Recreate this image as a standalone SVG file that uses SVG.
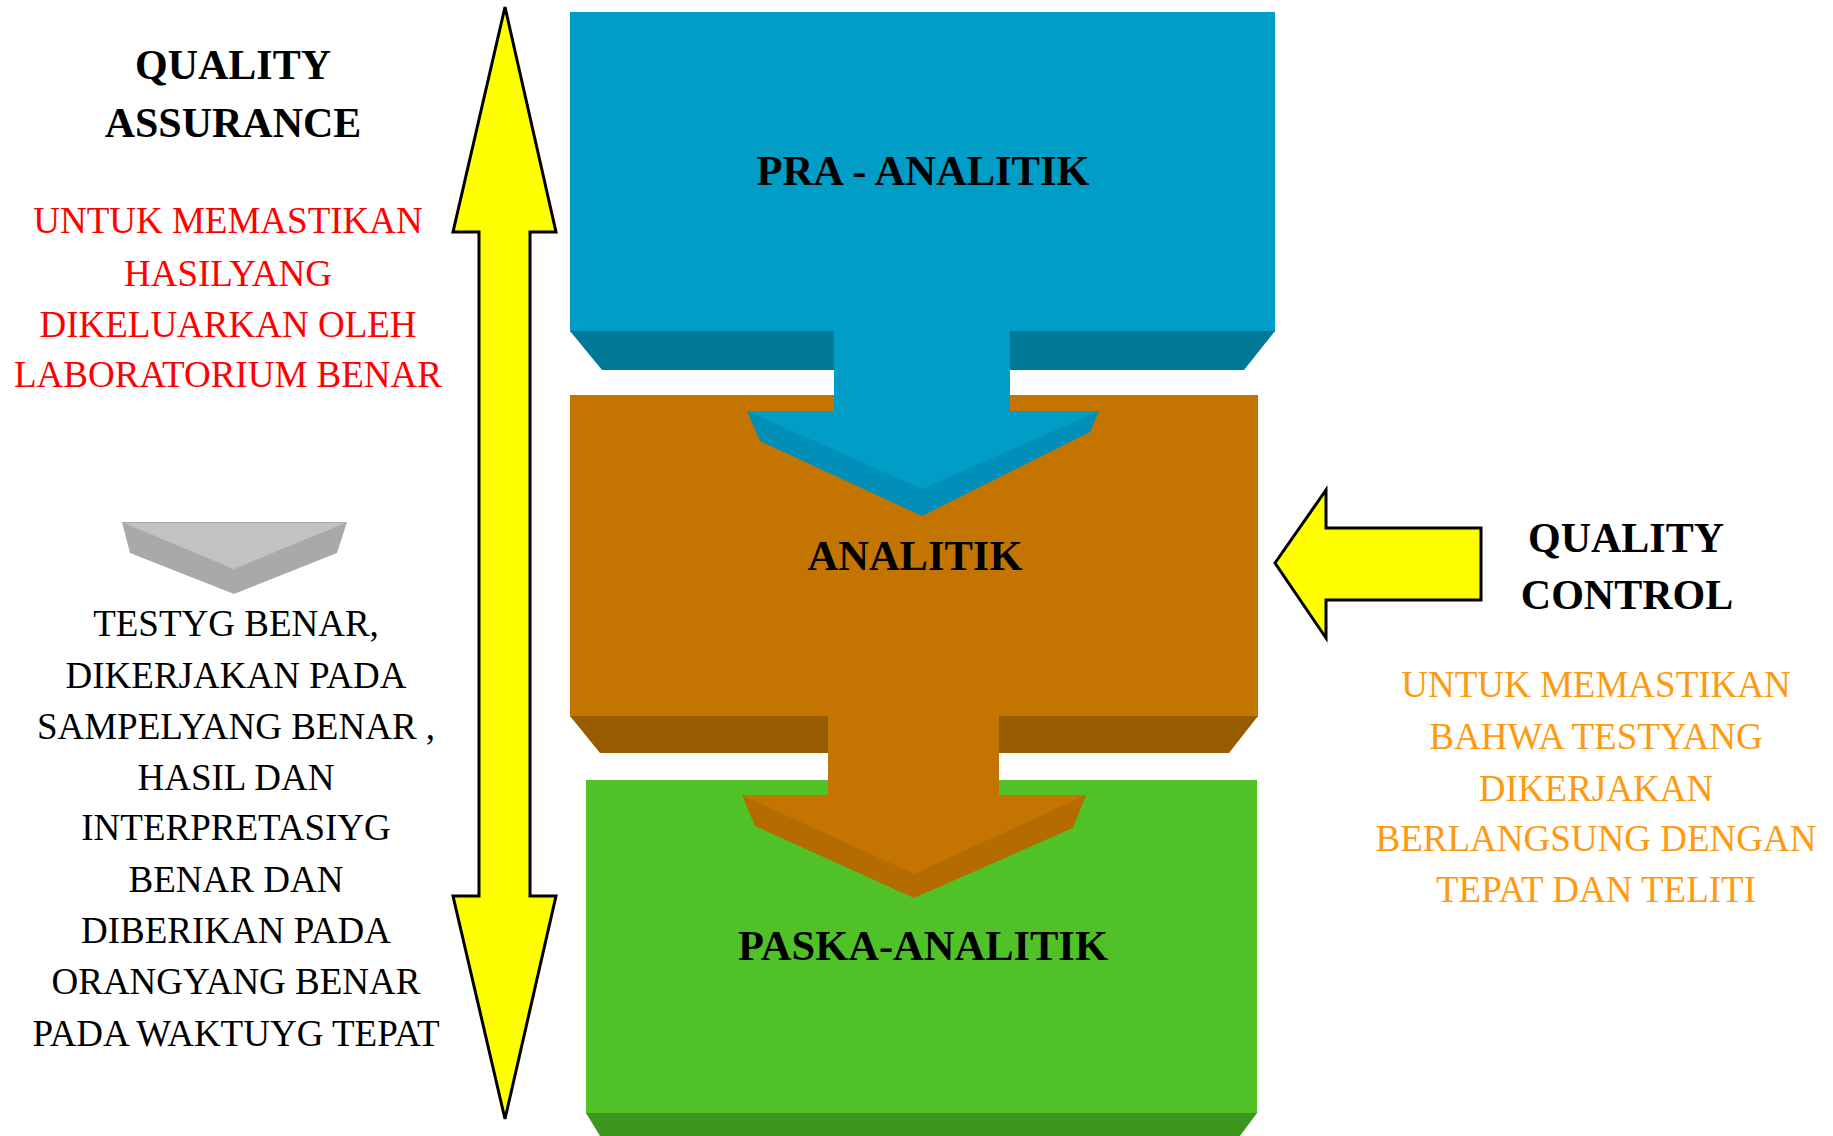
<svg xmlns="http://www.w3.org/2000/svg" width="1833" height="1136" viewBox="0 0 1833 1136">
<style>
.title{font-family:"Liberation Serif","Times New Roman",serif;font-weight:bold;font-size:42px;fill:#000;text-anchor:middle}
.node{font-family:"Liberation Serif","Times New Roman",serif;font-weight:bold;font-size:42.5px;fill:#000;text-anchor:middle}
.body{font-family:"Liberation Serif","Times New Roman",serif;font-size:37px;text-anchor:middle}
.red{fill:#FF0000}
.blk{fill:#000}
.org{fill:#FF9A10}
.yel{fill:#FFFF00;stroke:#000;stroke-width:3;stroke-linejoin:miter}
</style>
<rect width="1833" height="1136" fill="#fff"/>

<g id="qa-label">
<text class="title" x="233" y="79">QUALITY</text>
<text class="title" x="233" y="137">ASSURANCE</text>
<text class="body red" x="228" y="233">UNTUK MEMASTIKAN</text>
<text class="body red" x="228" y="286">HASILYANG</text>
<text class="body red" x="228" y="337">DIKELUARKAN OLEH</text>
<text class="body red" x="228" y="387">LABORATORIUM BENAR</text>
</g>

<g id="qa-marker">
<polygon points="122,522 347,522 337,553 234,594 130,553" fill="#A9A9A9"/>
<polygon points="124,523 345,523 234,569" fill="#C2C2C2"/>
</g>

<g id="qa-detail">
<text class="body blk" x="236" y="636">TESTYG BENAR,</text>
<text class="body blk" x="236" y="688">DIKERJAKAN PADA</text>
<text class="body blk" x="236" y="739">SAMPELYANG BENAR ,</text>
<text class="body blk" x="236" y="790">HASIL DAN</text>
<text class="body blk" x="236" y="840">INTERPRETASIYG</text>
<text class="body blk" x="236" y="892">BENAR DAN</text>
<text class="body blk" x="236" y="943">DIBERIKAN PADA</text>
<text class="body blk" x="236" y="994">ORANGYANG BENAR</text>
<text class="body blk" x="236" y="1046">PADA WAKTUYG TEPAT</text>
</g>

<g id="pra-analitik">
<rect x="570" y="12" width="705" height="320" fill="#009DC6"/>
<polygon points="570,331 1275,331 1244,370 602,370" fill="#007896"/>
<text class="node" x="923" y="185">PRA - ANALITIK</text>
</g>

<g id="analitik">
<rect x="570" y="395" width="688" height="322" fill="#C47400"/>
<polygon points="570,716 1258,716 1229,753 600,753" fill="#985C00"/>
<text class="node" x="915" y="570">ANALITIK</text>
</g>

<g id="paska-analitik">
<rect x="586" y="780" width="671" height="334" fill="#50C228"/>
<polygon points="586,1113 1257,1113 1240,1136 600,1136" fill="#3C961E"/>
<text class="node" x="923" y="960">PASKA-ANALITIK</text>
</g>

<g id="qc-label">
<text class="title" x="1626" y="552">QUALITY</text>
<text class="title" x="1627" y="609">CONTROL</text>
<text class="body org" x="1596" y="697">UNTUK MEMASTIKAN</text>
<text class="body org" x="1596" y="749">BAHWA TESTYANG</text>
<text class="body org" x="1596" y="801">DIKERJAKAN</text>
<text class="body org" x="1596" y="851">BERLANGSUNG DENGAN</text>
<text class="body org" x="1596" y="902">TEPAT DAN TELITI</text>
</g>

<g id="connectors">
<g id="arrow-pra-analitik">
<rect x="834" y="331" width="176" height="82" fill="#009DC6"/>
<polygon points="747,411 1099,411 1090,432 922,516 760,441" fill="#008FB6"/>
<polygon points="747,411 1099,411 922,489" fill="#009DC6"/>
</g>
<g id="arrow-analitik-paska">
<rect x="828" y="716" width="171" height="81" fill="#C47400"/>
<polygon points="742,795 1086,795 1073,828 914,898 755,826" fill="#B46C00"/>
<polygon points="742,795 1086,795 914,874" fill="#C47400"/>
</g>
<polygon id="qa-arrow" class="yel" points="505,7 556,232 530,232 530,896 556,896 505,1119 453,896 479,896 479,232 453,232"/>
<polygon id="qc-arrow" class="yel" points="1275,563 1326,490 1326,528 1481,528 1481,600 1326,600 1326,638"/>
</g>
</svg>
